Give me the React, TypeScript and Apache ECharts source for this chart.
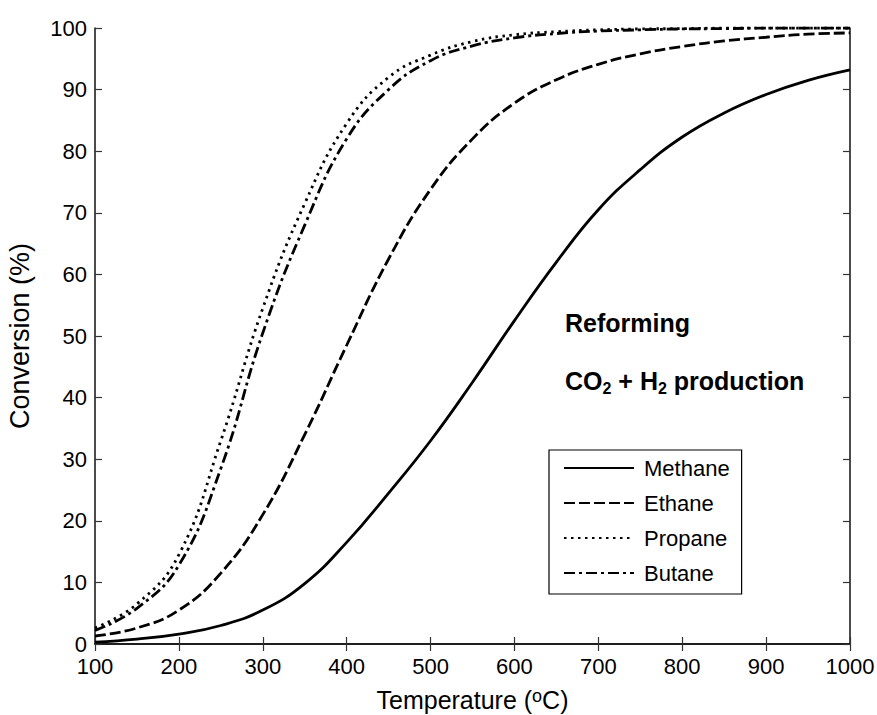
import React, { useEffect, useRef } from "react";
import * as echarts from "echarts";

const temperatures = [100, 150, 200, 250, 300, 350, 400, 450, 500, 550, 600, 650, 700, 750, 800, 850, 900, 950, 1000];
const methane = [0.3, 0.8, 1.6, 3.0, 5.5, 9.8, 16.5, 24.5, 33, 42.5, 52.5, 62, 70.5, 77, 82.3, 86.2, 89.2, 91.5, 93.2];
const ethane = [1.3, 2.6, 5.5, 11.5, 21, 34, 48.5, 62.5, 73.8, 82, 87.8, 91.6, 94.1, 95.8, 97, 97.9, 98.5, 99, 99.2];
const propane = [2.6, 6.5, 14.5, 33, 54.5, 71.5, 84.5, 92, 95.6, 97.8, 98.9, 99.4, 99.7, 99.85, 99.9, 100, 100, 100, 100];
const butane = [2.2, 5.8, 12.8, 28.5, 50.5, 68, 82, 90, 94.7, 97.1, 98.4, 99.1, 99.5, 99.7, 99.85, 99.9, 100, 100, 100];
const seriesNames = ["Methane", "Ethane", "Propane", "Butane"];
const xTicks = { min: 100, max: 1000, interval: 100 };
const yTicks = { min: 0, max: 100, interval: 10 };

const FONT = "'Liberation Sans', Arial, Helvetica, sans-serif";

export default function App() {
  const ref = useRef<HTMLDivElement>(null);
  useEffect(() => {
    if (!ref.current) return;
    const chart = echarts.init(ref.current, null, { renderer: "svg" });
    const pair = (vals: number[]) => temperatures.map((t, i) => [t, vals[i]]);
    const dashes: any[] = ["solid", [11, 4], [2.5, 4.5], [11, 4, 3, 4]];
    const data = [methane, ethane, propane, butane];
    const axisLine = { show: true, lineStyle: { color: "#111", width: 1.5 } };
    const tick = { show: true, inside: true, length: 7, lineStyle: { color: "#333", width: 1.2 } };
    chart.setOption({
      animation: false,
      backgroundColor: "#fff",
      grid: { left: 95, right: 27, top: 28, bottom: 71, containLabel: false, outerBoundsMode: "none" },
      xAxis: [
        {
          type: "value",
          ...xTicks,
          position: "bottom",
          axisLine,
          axisTick: tick,
          splitLine: { show: false },
          axisLabel: { color: "#000", fontSize: 22, lineHeight: 18, fontFamily: FONT, margin: 13, formatter: (v: number) => String(v) },
          name: "Temperature ({sup|o}C)",
          nameLocation: "middle",
          nameGap: 43,
          nameTextStyle: {
            color: "#000",
            fontSize: 25,
            fontFamily: FONT,
            lineHeight: 26,
            rich: {
              sup: { fontSize: 18, fontFamily: FONT, color: "#000", lineHeight: 10, verticalAlign: "top" },
            },
          },
        },
        {
          type: "value",
          ...xTicks,
          position: "top",
          axisLine,
          axisTick: tick,
          splitLine: { show: false },
          axisLabel: { show: false },
        },
      ],
      yAxis: [
        {
          type: "value",
          ...yTicks,
          position: "left",
          axisLine,
          axisTick: tick,
          splitLine: { show: false },
          axisLabel: { color: "#000", fontSize: 22, lineHeight: 18, fontFamily: FONT, margin: 8 },
          name: "Conversion (%)",
          nameLocation: "middle",
          nameGap: 62,
          nameRotate: 90,
          nameTextStyle: { color: "#000", fontSize: 27, fontFamily: FONT },
        },
        {
          type: "value",
          ...yTicks,
          position: "right",
          axisLine,
          axisTick: tick,
          splitLine: { show: false },
          axisLabel: { show: false },
        },
      ],
      legend: {
        orient: "vertical",
        left: 549,
        top: 450,
        data: seriesNames,
        itemWidth: 70,
        itemHeight: 22,
        itemGap: 13,
        padding: [7, 12, 10, 14],
        borderColor: "#000",
        borderWidth: 1.2,
        backgroundColor: "#fff",
        itemStyle: { color: "rgba(0,0,0,0)", borderWidth: 0, opacity: 0 },
        textStyle: { color: "#000", fontSize: 22, fontFamily: FONT, padding: [0, 0, 0, 5] },
      },
      graphic: [
        {
          type: "text",
          left: 565,
          top: 310,
          style: { text: "Reforming", font: `bold 25px ${FONT}`, fill: "#000" },
        },
        {
          type: "text",
          left: 565,
          top: 366,
          style: {
            text: "CO{sub|2} + H{sub|2} production",
            fontSize: 25,
            fontWeight: "bold",
            fontFamily: FONT,
            fill: "#000",
            lineHeight: 30,
            rich: {
              sub: { fontSize: 16, fontWeight: "bold", fontFamily: FONT, fill: "#000", lineHeight: 4, verticalAlign: "bottom" },
            },
          },
        },
      ],
      series: seriesNames.map((name, i) => ({
        name,
        type: "line",
        data: pair(data[i]),
        showSymbol: false,
        symbol: "none",
        smooth: 0.45,
        lineStyle: { color: "#000", width: 2.8, type: dashes[i] },
        itemStyle: { color: "#000" },
      })),
    });
    return () => chart.dispose();
  }, []);
  return <div ref={ref} style={{ position: "fixed", left: 0, top: 0, width: 877, height: 715 }} />;
}
